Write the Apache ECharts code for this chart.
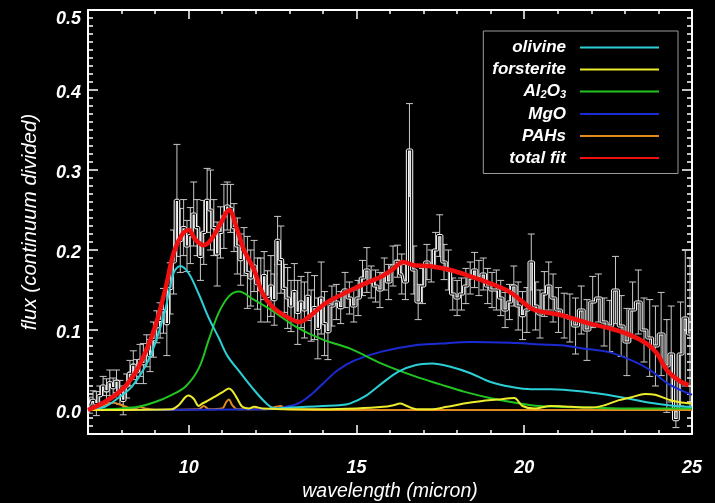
<!DOCTYPE html>
<html>
<head>
<meta charset="utf-8">
<script src="https://cdn.jsdelivr.net/npm/echarts@6/dist/echarts.min.js"></script>
<style>
  html, body { margin: 0; padding: 0; background: #000; }
  #chart { width: 715px; height: 503px; }
</style>
</head>
<body>
<div id="chart"></div>
<script>
// Binned spectrum: bin centre (micron), continuum-divided flux, 1-sigma error
const binWave = [
  7.05, 7.15, 7.25, 7.35, 7.45, 7.55, 7.65, 7.75, 7.85, 7.95,
  8.05, 8.15, 8.25, 8.35, 8.45, 8.55, 8.65, 8.75, 8.85, 8.95,
  9.05, 9.15, 9.25, 9.35, 9.45, 9.55, 9.65, 9.75, 9.85, 9.95,
  10.05, 10.15, 10.25, 10.35, 10.45, 10.55, 10.65, 10.75, 10.85, 10.95,
  11.05, 11.15, 11.25, 11.35, 11.45, 11.55, 11.65, 11.75, 11.85, 11.95,
  12.05, 12.15, 12.25, 12.35, 12.45, 12.55, 12.65, 12.75, 12.85, 12.95,
  13.05, 13.15, 13.25, 13.35, 13.45, 13.55, 13.65, 13.75, 13.85, 13.95,
  14.05, 14.15, 14.27, 14.40, 14.53, 14.66, 14.79, 14.92, 15.05, 15.18,
  15.31, 15.44, 15.57, 15.70, 15.83, 15.96, 16.09, 16.22, 16.35, 16.46,
  16.58, 16.71, 16.84, 16.97, 17.10, 17.23, 17.36, 17.48, 17.61, 17.74,
  17.87, 18.00, 18.13, 18.26, 18.39, 18.52, 18.65, 18.78, 18.91, 19.04,
  19.17, 19.30, 19.43, 19.56, 19.69, 19.82, 19.95, 20.08, 20.21, 20.34,
  20.47, 20.60, 20.73, 20.86, 21.02, 21.19, 21.36, 21.53, 21.70, 21.87,
  22.04, 22.21, 22.38, 22.55, 22.72, 22.89, 23.06, 23.23, 23.40, 23.57,
  23.74, 23.91, 24.08, 24.25, 24.38, 24.52, 24.66, 24.80, 24.94
];
const binFlux = [
  0.006, 0.012, 0.008, 0.018, 0.030, 0.024, 0.034, 0.028, 0.036, 0.022,
  0.012, 0.030, 0.046, 0.056, 0.048, 0.062, 0.058, 0.074, 0.068, 0.088,
  0.104, 0.112, 0.124, 0.108, 0.152, 0.185, 0.262, 0.212, 0.228, 0.205,
  0.218, 0.245, 0.228, 0.192, 0.222, 0.262, 0.250, 0.228, 0.195, 0.222,
  0.242, 0.255, 0.252, 0.228, 0.205, 0.188, 0.198, 0.172, 0.165, 0.180,
  0.158, 0.150, 0.168, 0.142, 0.155, 0.138, 0.212, 0.188, 0.152, 0.140,
  0.130, 0.148, 0.122, 0.135, 0.125, 0.142, 0.118, 0.128, 0.102, 0.140,
  0.108, 0.098, 0.130, 0.135, 0.128, 0.150, 0.140, 0.130, 0.140, 0.165,
  0.175, 0.160, 0.155, 0.150, 0.170, 0.160, 0.180, 0.186, 0.170, 0.160,
  0.325, 0.175, 0.135, 0.155, 0.185, 0.180, 0.200, 0.218, 0.185, 0.175,
  0.145, 0.140, 0.145, 0.155, 0.165, 0.175, 0.165, 0.170, 0.155, 0.150,
  0.150, 0.140, 0.125, 0.135, 0.155, 0.130, 0.118, 0.125, 0.185, 0.130,
  0.120, 0.145, 0.155, 0.140, 0.125, 0.118, 0.115, 0.105, 0.125, 0.100,
  0.135, 0.140, 0.110, 0.105, 0.150, 0.105, 0.085, 0.125, 0.135, 0.100,
  0.090, 0.080, 0.095, 0.055, 0.070, -0.012, 0.070, 0.115, 0.095
];
const binErr = [
  0.010, 0.012, 0.015, 0.012, 0.012, 0.015, 0.016, 0.012, 0.014, 0.015,
  0.018, 0.015, 0.016, 0.018, 0.015, 0.020, 0.025, 0.020, 0.020, 0.022,
  0.020, 0.022, 0.028, 0.040, 0.032, 0.040, 0.070, 0.040, 0.035, 0.032,
  0.035, 0.040, 0.035, 0.030, 0.040, 0.040, 0.050, 0.035, 0.040, 0.032,
  0.040, 0.030, 0.030, 0.030, 0.035, 0.032, 0.030, 0.045, 0.035, 0.032,
  0.032, 0.040, 0.030, 0.032, 0.038, 0.032, 0.030, 0.042, 0.030, 0.038,
  0.032, 0.035, 0.040, 0.032, 0.035, 0.030, 0.032, 0.040, 0.038, 0.045,
  0.040, 0.035, 0.025, 0.022, 0.020, 0.022, 0.020, 0.020, 0.022, 0.022,
  0.028, 0.020, 0.020, 0.022, 0.020, 0.022, 0.025, 0.020, 0.025, 0.022,
  0.058, 0.030, 0.022, 0.022, 0.022, 0.020, 0.022, 0.026, 0.022, 0.025,
  0.020, 0.022, 0.020, 0.022, 0.020, 0.022, 0.022, 0.020, 0.022, 0.022,
  0.025, 0.022, 0.022, 0.022, 0.025, 0.030, 0.030, 0.028, 0.035, 0.030,
  0.030, 0.028, 0.030, 0.030, 0.028, 0.028, 0.030, 0.035, 0.030, 0.038,
  0.032, 0.030, 0.030, 0.032, 0.042, 0.038, 0.042, 0.035, 0.040, 0.040,
  0.048, 0.050, 0.052, 0.058, 0.060, 0.010, 0.065, 0.085, 0.095
];

// Fitted dust components (wavelength grid and flux for each)
const olivineWave = [7.0, 7.5, 7.9, 8.3, 8.7, 9.0, 9.3, 9.55, 9.75, 10.0, 10.3, 10.6, 10.9, 11.15, 11.55, 11.95, 12.35, 12.6, 13.0, 13.5, 14.0, 14.5, 14.8, 15.25, 15.75, 16.25, 16.75, 17.25, 17.8, 18.4, 19.0, 19.6, 20.2, 20.8, 21.75, 22.75, 23.75, 24.5, 25.0];
const olivineFlux = [0.0, 0.004, 0.015, 0.029, 0.054, 0.083, 0.125, 0.171, 0.180, 0.171, 0.145, 0.115, 0.090, 0.068, 0.046, 0.025, 0.007, 0.002, 0.003, 0.004, 0.005, 0.006, 0.008, 0.017, 0.033, 0.048, 0.056, 0.058, 0.054, 0.046, 0.035, 0.029, 0.026, 0.026, 0.023, 0.017, 0.009, 0.005, 0.004];

const forsteriteWave = [7.0, 9.5, 9.7, 9.9, 10.0, 10.15, 10.3, 10.4, 10.5, 10.75, 11.0, 11.2, 11.3, 11.45, 11.6, 11.8, 11.95, 12.2, 13.0, 14.0, 15.0, 15.8, 16.1, 16.3, 16.5, 16.8, 17.2, 17.7, 18.2, 18.7, 19.2, 19.7, 19.95, 20.3, 20.8, 21.4, 22.0, 22.4, 22.8, 23.2, 23.6, 23.9, 24.3, 24.6, 25.0];
const forsteriteFlux = [0.0, 0.001, 0.006, 0.016, 0.018, 0.014, 0.005, 0.008, 0.010, 0.016, 0.022, 0.027, 0.024, 0.014, 0.004, 0.002, 0.004, 0.002, 0.001, 0.001, 0.002, 0.004, 0.006, 0.008, 0.005, 0.001, 0.001, 0.004, 0.008, 0.011, 0.013, 0.015, 0.005, 0.002, 0.005, 0.004, 0.003, 0.006, 0.012, 0.016, 0.020, 0.019, 0.013, 0.010, 0.008];

const aluminaWave = [7.0, 8.0, 8.5, 9.0, 9.5, 9.9, 10.3, 10.6, 10.9, 11.2, 11.5, 11.9, 12.5, 13.2, 14.0, 14.8, 15.75, 16.75, 17.5, 18.2, 19.2, 20.2, 21.0, 22.0, 23.0, 24.0, 25.0];
const aluminaFlux = [0.0, 0.002, 0.004, 0.010, 0.019, 0.029, 0.052, 0.088, 0.122, 0.142, 0.148, 0.139, 0.124, 0.104, 0.088, 0.077, 0.058, 0.042, 0.032, 0.023, 0.013, 0.006, 0.004, 0.003, 0.002, 0.002, 0.002];

const mgoWave = [7.0, 12.5, 12.9, 13.3, 13.7, 14.05, 14.45, 14.95, 15.75, 16.75, 17.5, 18.4, 19.6, 20.5, 21.1, 21.75, 22.55, 23.25, 23.75, 24.25, 24.6, 25.0];
const mgoFlux = [0.0, 0.001, 0.004, 0.009, 0.021, 0.035, 0.050, 0.062, 0.073, 0.081, 0.083, 0.085, 0.084, 0.082, 0.081, 0.077, 0.072, 0.061, 0.050, 0.034, 0.026, 0.019];

const pahWave = [7.0, 7.3, 7.55, 7.75, 8.0, 8.2, 8.4, 8.55, 8.7, 9.0, 10.3, 10.45, 10.6, 11.0, 11.12, 11.2, 11.3, 11.45, 12.3, 12.6, 12.75, 12.9, 14.5, 25.0];
const pahFlux = [0.0, 0.003, 0.007, 0.009, 0.006, 0.003, 0.002, 0.004, 0.002, 0.0, 0.001, 0.005, 0.001, 0.002, 0.010, 0.013, 0.006, 0.001, 0.001, 0.004, 0.005, 0.001, 0.0, 0.0];

const totalWave = [7.0, 7.5, 8.0, 8.4, 8.7, 9.0, 9.3, 9.55, 9.8, 10.0, 10.2, 10.45, 10.65, 10.95, 11.2, 11.45, 11.65, 11.95, 12.2, 12.5, 12.9, 13.3, 13.6, 14.1, 14.75, 15.25, 15.75, 16.05, 16.4, 16.7, 17.15, 17.8, 18.4, 19.0, 19.55, 19.9, 20.2, 20.5, 21.05, 21.4, 21.95, 22.55, 23.15, 23.65, 23.95, 24.25, 24.6, 24.9];
const totalFlux = [0.0, 0.010, 0.025, 0.046, 0.071, 0.104, 0.150, 0.196, 0.219, 0.225, 0.213, 0.206, 0.212, 0.233, 0.250, 0.225, 0.200, 0.175, 0.146, 0.129, 0.117, 0.110, 0.117, 0.134, 0.148, 0.158, 0.167, 0.175, 0.185, 0.181, 0.180, 0.175, 0.167, 0.158, 0.148, 0.137, 0.127, 0.123, 0.119, 0.115, 0.108, 0.102, 0.094, 0.083, 0.071, 0.050, 0.037, 0.031];

// Axis ticks and labels
const xMinorTicks = [7, 8, 9, 10, 11, 12, 13, 14, 15, 16, 17, 18, 19, 20, 21, 22, 23, 24, 25];
const xMajorTicks = [10, 15, 20, 25];
const yMajorTicks = [0.0, 0.1, 0.2, 0.3, 0.4, 0.5];
const yMinorTicks = [];
for (let k = -3; k <= 50; k++) yMinorTicks.push(+(k / 100).toFixed(2));

const X_MIN = 7, X_MAX = 25, Y_MIN = -0.03, Y_MAX = 0.5;

const FONT = '"Liberation Sans", Arial, Helvetica, sans-serif';
const WHITE = '#ffffff';
const labelFont = { color: WHITE, fontFamily: FONT, fontSize: 18, fontWeight: 'bold', fontStyle: 'italic' };

const pairs = (xs, ys) => xs.map((x, i) => [x, ys[i]]);

function xAxisDef(position, ticks, len, withLine, withLabel) {
  return {
    type: 'value', position, min: X_MIN, max: X_MAX,
    axisLine: { show: withLine, onZero: false, lineStyle: { color: WHITE, width: 2 } },
    axisTick: { show: true, inside: true, length: len, customValues: ticks, lineStyle: { color: WHITE, width: 1.5 } },
    axisLabel: withLabel ? Object.assign({ show: true, customValues: xMajorTicks, margin: 25 }, labelFont) : { show: false },
    splitLine: { show: false },
    name: withLabel ? 'wavelength (micron)' : '',
    nameLocation: 'middle', nameGap: 47,
    nameTextStyle: { color: WHITE, fontFamily: FONT, fontSize: 19.5, fontStyle: 'italic' }
  };
}

function yAxisDef(position, ticks, len, withLine, withLabel) {
  return {
    type: 'value', position, min: Y_MIN, max: Y_MAX,
    axisLine: { show: withLine, onZero: false, lineStyle: { color: WHITE, width: 2 } },
    axisTick: { show: true, inside: true, length: len, customValues: ticks, lineStyle: { color: WHITE, width: 1.5 } },
    axisLabel: withLabel ? {
      show: true, customValues: yMajorTicks, margin: 7,
      // the top label sits a little lower so it stays inside the frame
      formatter: v => (v >= 0.45 ? '{top|' : '{n|') + v.toFixed(1) + '}',
      rich: {
        n: Object.assign({ padding: [7, 0, 0, 0] }, labelFont),
        top: Object.assign({ padding: [18, 0, 0, 0] }, labelFont)
      }
    } : { show: false },
    splitLine: { show: false },
    name: withLabel ? 'flux (continuum divided)' : '',
    nameLocation: 'middle', nameGap: 48, nameRotate: 90,
    nameTextStyle: { color: WHITE, fontFamily: FONT, fontSize: 20.5, fontStyle: 'italic' }
  };
}

function componentSeries(name, xs, ys, color, width, z) {
  return {
    name, type: 'line', data: pairs(xs, ys),
    smooth: 0.35, showSymbol: false, symbol: 'none',
    lineStyle: { color, width }, itemStyle: { color },
    z, silent: true, clip: true
  };
}

const chart = echarts.init(document.getElementById('chart'), null, { renderer: 'canvas' });

chart.setOption({
  backgroundColor: '#000000',
  animation: false,
  // fixed frame: the plot area must not shrink to fit the axis texts
  grid: { left: 88, right: 23, top: 10, bottom: 69, containLabel: false, outerBoundsMode: 'none' },
  xAxis: [
    xAxisDef('bottom', xMinorTicks, 4, true, true),
    xAxisDef('bottom', xMajorTicks, 9, false, false),
    xAxisDef('top', xMinorTicks, 4, true, false),
    xAxisDef('top', xMajorTicks, 9, false, false)
  ],
  yAxis: [
    yAxisDef('left', yMinorTicks, 5, true, true),
    yAxisDef('left', yMajorTicks, 10, false, false),
    yAxisDef('right', yMinorTicks, 5, true, false),
    yAxisDef('right', yMajorTicks, 10, false, false)
  ],
  legend: {
    data: ['olivine', 'forsterite', 'Al2O3', 'MgO', 'PAHs', 'total fit'],
    orient: 'vertical', align: 'right',
    right: 37, top: 31,
    padding: [8, 19, 7, 9],
    itemGap: 5, itemWidth: 79, itemHeight: 2, icon: 'rect',
    borderColor: '#9a9a9a', borderWidth: 1,
    selectedMode: false,
    formatter: name => name === 'Al2O3'
      ? '{t|Al}{s|2}{t|O}{s|3}'
      : '{t|' + name + '}',
    textStyle: {
      color: WHITE, padding: [0, 9, 0, 0],
      rich: {
        t: { color: WHITE, fontFamily: FONT, fontSize: 17, fontWeight: 'bold', fontStyle: 'italic', lineHeight: 18 },
        s: { color: WHITE, fontFamily: FONT, fontSize: 11, fontWeight: 'bold', fontStyle: 'italic', lineHeight: 12, verticalAlign: 'bottom', padding: [6, 0, 0, 0] }
      }
    }
  },
  series: [
    // error bars of the binned spectrum
    {
      type: 'custom', name: 'errors',
      data: binWave.map((w, i) => [w, binFlux[i] - binErr[i], binFlux[i] + binErr[i]]),
      encode: { x: 0, y: [1, 2] },
      clip: true, silent: true, z: 1,
      renderItem: (params, api) => {
        const x = api.value(0);
        const lo = api.coord([x, api.value(1)]);
        const hi = api.coord([x, api.value(2)]);
        const h = 3.5;
        const st = { stroke: '#c9c9c9', lineWidth: 1 };
        return {
          type: 'group',
          children: [
            { type: 'line', shape: { x1: lo[0], y1: lo[1], x2: hi[0], y2: hi[1] }, style: st },
            { type: 'line', shape: { x1: lo[0] - h, y1: lo[1], x2: lo[0] + h, y2: lo[1] }, style: st },
            { type: 'line', shape: { x1: hi[0] - h, y1: hi[1], x2: hi[0] + h, y2: hi[1] }, style: st }
          ]
        };
      }
    },
    // binned spectrum drawn as a hollow white histogram
    {
      type: 'line', name: 'spectrum', data: pairs(binWave, binFlux), step: 'middle',
      showSymbol: false, symbol: 'none', silent: true, z: 2,
      lineStyle: { color: '#f4f4f4', width: 3.2 }
    },
    {
      type: 'line', name: 'spectrum-core', data: pairs(binWave, binFlux), step: 'middle',
      showSymbol: false, symbol: 'none', silent: true, z: 3,
      lineStyle: { color: '#000000', width: 1.1 }
    },
    componentSeries('PAHs', pahWave, pahFlux, '#e38a1e', 2, 4),
    componentSeries('MgO', mgoWave, mgoFlux, '#1b2bd4', 2, 5),
    componentSeries('Al2O3', aluminaWave, aluminaFlux, '#22c422', 2, 6),
    componentSeries('olivine', olivineWave, olivineFlux, '#2ccfd6', 2, 7),
    componentSeries('forsterite', forsteriteWave, forsteriteFlux, '#ecec2c', 2, 8),
    componentSeries('total fit', totalWave, totalFlux, '#f01010', 4.5, 9)
  ]
});
</script>
</body>
</html>
